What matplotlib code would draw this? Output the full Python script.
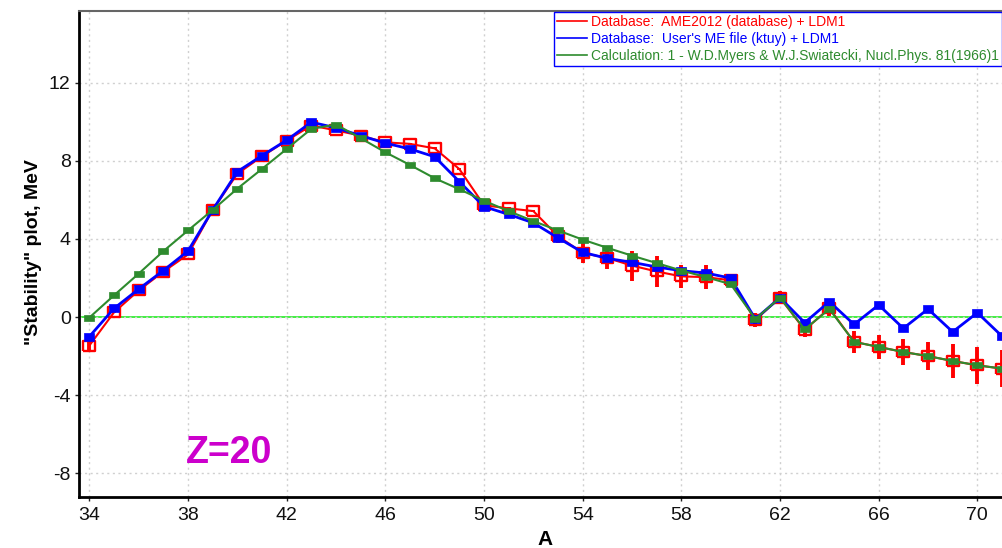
import matplotlib
matplotlib.use("Agg")
import matplotlib.pyplot as plt
from matplotlib.lines import Line2D
import numpy as np

plt.rcParams['font.family'] = ['Liberation Sans', 'DejaVu Sans']
plt.rcParams['axes.unicode_minus'] = False

A = list(range(34, 72))

ame2012 = [-1.46, 0.24, 1.36, 2.32, 3.2, 5.48, 7.33, 8.22, 9.03, 9.8, 9.55, 9.28, 8.94, 8.86,
           8.63, 7.57, 5.72, 5.56, 5.42, 4.14, 3.28, 3.02, 2.63, 2.33, 2.08, 2.04, 1.88,
           -0.15, 0.99, -0.66, 0.45, -1.27, -1.53, -1.79, -2.0, -2.25, -2.47, -2.64]
ame2012_err = [0.34, 0.05, 0.05, 0.05, 0.05, 0.05, 0.05, 0.05, 0.05, 0.05, 0.05, 0.05, 0.05, 0.05,
               0.05, 0.05, 0.05, 0.05, 0.05, 0.34, 0.51, 0.55, 0.77, 0.8, 0.58, 0.62, 0.3,
               0.34, 0.34, 0.38, 0.4, 0.56, 0.6, 0.69, 0.7, 0.85, 0.94, 0.96]
ktuy = [-1.0, 0.44, 1.43, 2.38, 3.38, 5.48, 7.44, 8.26, 9.05, 9.97, 9.68, 9.28, 8.9, 8.6,
        8.2, 6.93, 5.65, 5.25, 4.82, 4.05, 3.31, 3.0, 2.8, 2.56, 2.37, 2.25, 1.99,
        -0.1, 0.99, -0.29, 0.79, -0.38, 0.62, -0.58, 0.41, -0.76, 0.22, -0.98]
myers = [-0.03, 1.11, 2.22, 3.37, 4.43, 5.48, 6.57, 7.58, 8.6, 9.63, 9.85, 9.15, 8.43, 7.78,
         7.1, 6.54, 5.95, 5.42, 4.91, 4.43, 3.96, 3.54, 3.14, 2.76, 2.38, 2.04, 1.68,
         -0.1, 0.99, -0.63, 0.41, -1.27, -1.53, -1.79, -2.0, -2.25, -2.47, -2.64]

legend_labels = ["Database:  AME2012 (database) + LDM1",
                 "Database:  User's ME file (ktuy) + LDM1",
                 "Calculation: 1 - W.D.Myers & W.J.Swiatecki, Nucl.Phys. 81(1966)1"]
xticks = [34, 38, 42, 46, 50, 54, 58, 62, 66, 70]
yticks = [-8, -4, 0, 4, 8, 12]

RED = '#ff0000'
BLUE = '#0000ff'
GREEN = '#2e8b2e'
MAG = '#cc00cc'


def rect(w, h):
    return [(-w, -h), (w, -h), (w, h), (-w, h), (-w, -h)]


fig = plt.figure(figsize=(10.02, 5.48), dpi=100)
ax = fig.add_axes([79 / 1002, (548 - 497) / 548, (1002 - 79) / 1002, (497 - 11) / 548])

ax.set_xlim(33.58, 71.0)
ax.set_ylim(-9.21, 15.66)

ax.grid(True, color='#d0d0d0', linestyle=(0, (1.5, 2.5)), linewidth=1.0, zorder=0)
ax.axhline(0, color='#33ee33', linewidth=1.3, zorder=1)

# red: AME2012 with error bars
ax.errorbar(A, ame2012, yerr=ame2012_err, fmt='none', ecolor=RED, elinewidth=2.8,
            capsize=0, zorder=2)
ax.plot(A, ame2012, color=RED, linewidth=1.5, marker=rect(1.25, 1.0), markersize=8.6,
        markerfacecolor='none', markeredgecolor=RED, markeredgewidth=1.7, zorder=3)
# blue: ktuy
ax.plot(A, ktuy, color=BLUE, linewidth=2.0, marker=rect(1.35, 1.0), markersize=7.8,
        markerfacecolor=BLUE, markeredgecolor=BLUE, markeredgewidth=0.5, zorder=4)
# green: Myers-Swiatecki
ax.plot(A, myers, color=GREEN, linewidth=1.5, marker=rect(1.5, 0.95), markersize=7.0,
        markerfacecolor=GREEN, markeredgecolor=GREEN, markeredgewidth=0.5, zorder=5)

ax.set_xticks(xticks)
ax.set_yticks(yticks)
ax.tick_params(axis='both', direction='out', length=3, width=1, labelsize=14,
               colors='#222222', labelcolor='#111111')
ax.tick_params(axis='x', pad=4)
ax.tick_params(axis='y', pad=3)

for s in ['left', 'bottom']:
    ax.spines[s].set_linewidth(2.0)
    ax.spines[s].set_color('black')
ax.spines['top'].set_linewidth(1.5)
ax.spines['top'].set_color('#666666')
ax.spines['right'].set_visible(False)

ax.set_xlabel('A', fontsize=15, fontweight='bold')
ax.xaxis.set_label_coords(0.505, -0.068)
ax.set_ylabel('"Stability" plot, MeV', fontsize=14, fontweight='bold')
ax.yaxis.set_label_coords(-0.04, 0.504)

ax.text(39.65, -6.95, 'Z=20', color=MAG, fontsize=27, fontweight='bold',
        ha='center', va='center', zorder=6)

handles = [Line2D([], [], color=RED, linewidth=1.2),
           Line2D([], [], color=BLUE, linewidth=1.2),
           Line2D([], [], color=GREEN, linewidth=1.2)]
leg = ax.legend(handles, legend_labels, loc='upper right', bbox_to_anchor=(1.0, 0.997),
                borderaxespad=0, fontsize=10, handlelength=2.2, handletextpad=0.3,
                labelspacing=0.2, borderpad=0.2, fancybox=False, framealpha=1,
                edgecolor=BLUE)
leg.get_frame().set_linewidth(1.0)
for t, c in zip(leg.get_texts(), [RED, BLUE, GREEN]):
    t.set_color(c)
leg.set_zorder(10)

fig.savefig('out.png', dpi=100)
